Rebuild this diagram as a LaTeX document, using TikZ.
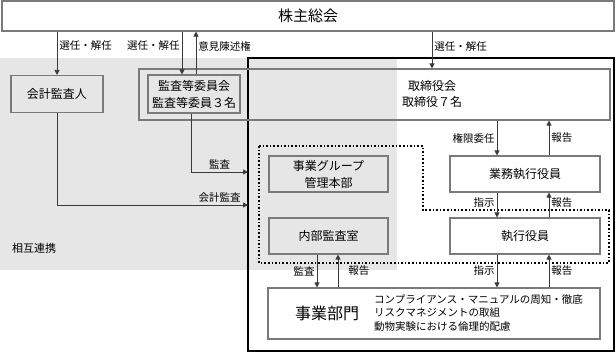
\documentclass[tikz,border=0pt]{standalone}
\usepackage{fontspec}
\setmainfont{Noto Sans CJK JP}
\usepackage{tikz}
\usetikzlibrary{arrows.meta,positioning,calc}
\definecolor{bandgray}{HTML}{E6E6E6}
\definecolor{boxline}{HTML}{7A7A7A}
\definecolor{linedark}{HTML}{3A3A3A}
\tikzset{
  orgbox/.style={draw=boxline, line width=1.1pt, align=center, inner sep=0pt, font=\fontsize{12}{17}\selectfont},
  ar/.style={-{Triangle[length=5pt,width=5pt]}, line width=.8pt, draw=linedark},
  lbl/.style={font=\fontsize{10.5}{12}\selectfont, inner sep=2pt},
  txt/.style={inner sep=0pt, align=center, font=\fontsize{12}{16}\selectfont},
}

\begin{document}
\begin{tikzpicture}[x=1pt, y=-1pt]
  \useasboundingbox (0,0) rectangle (616,353);
  % band and frames
  \fill[bandgray] (0,58) rectangle (397,270);
  \draw[black, line width=1.8pt] (248,58) rectangle (614,351);
  \draw[black, dotted, line width=1.6pt] (259,146) -| (423,210) -| (609,263) -- (259,263) -- cycle;

  \node[orgbox, minimum width=612pt, minimum height=30pt, font=\fontsize{15}{18}\selectfont] (soukai) at (308,16) {株主総会};
  \node[orgbox, minimum width=92pt, minimum height=37pt] (kaikei) at (57,94) {会計監査人};
  \node[orgbox, minimum width=92pt, minimum height=38pt] (kansa) at (194,94) {監査等委員会\\監査等委員３名};
  \node[orgbox, minimum width=471pt, minimum height=51pt] (torishimari) at (374.5,94.5) {};
  \node[txt] (torishimariText) at (432,94) {取締役会\\取締役７名};
  \node[orgbox, minimum width=150pt, minimum height=36pt] (gyomu) at (525,174) {業務執行役員};
  \node[orgbox, minimum width=150pt, minimum height=36pt] (shikko) at (525,236) {執行役員};
  \node[orgbox, minimum width=119pt, minimum height=36pt] (jigyoG) at (328.5,174) {事業グループ\\管理本部};
  \node[orgbox, minimum width=119pt, minimum height=36pt] (naibu) at (328.5,236) {内部監査室};
  \node[orgbox, minimum width=332pt, minimum height=51pt] (jigyo) at (434,313.5) {};
  \node[txt, font=\fontsize{16}{18}\selectfont] (jigyoTitle) at (327,313) {事業部門};
  \node[txt, anchor=west, align=left, font=\fontsize{10.5}{13.5}\selectfont] (jigyoList) at (374,313)
    {コンプライアンス・マニュアルの周知・徹底\\リスクマネジメントの取組\\動物実験における倫理的配慮};
  \node[lbl, anchor=west, font=\fontsize{11}{13}\selectfont] (renkei) at (10,248) {相互連携};

  \coordinate (kansaIn) at (182,0);
  \coordinate (kansaOut) at (196,0);
  \coordinate (kansaDown) at (191,0);
  \coordinate (auditEnd) at (248,172);
  \coordinate (acctEnd) at (248,205);
  \coordinate (cmdX) at (497,0);
  \coordinate (rptX) at (549,0);
  \coordinate (naibuDown) at (317,0);
  \coordinate (naibuUp) at (338,0);

  % shareholders
  \draw[ar] (soukai.south -| kaikei.north) -- (kaikei.north) node[lbl, pos=.33, right] {選任・解任};
  \draw[ar] (soukai.south -| kansaIn) -- (kansa.north -| kansaIn) node[lbl, pos=.33, left] {選任・解任};
  \draw[ar] (kansa.north -| kansaOut) -- (soukai.south -| kansaOut) node[lbl, pos=.66, right] {意見陳述権};
  \draw[ar] (soukai.south -| torishimariText) -- (torishimari.north -| torishimariText) node[lbl, pos=.4, right] {選任・解任};

  % audits
  \draw[ar] (kansa.south -| kansaDown) |- (auditEnd) node[lbl, pos=.75, above] {監査};
  \draw[ar] (kaikei.south) |- (acctEnd) node[lbl, pos=1, above left, xshift=-5pt] {会計監査};

  % execution
  \draw[ar] (torishimari.south -| cmdX) -- (gyomu.north -| cmdX) node[lbl, midway, left] {権限委任};
  \draw[ar] (gyomu.north -| rptX) -- (torishimari.south -| rptX) node[lbl, midway, right] {報告};
  \draw[ar] (gyomu.south -| cmdX) -- (shikko.north -| cmdX) node[lbl, pos=.4, left] {指示};
  \draw[ar] (shikko.north -| rptX) -- (gyomu.south -| rptX) node[lbl, pos=.6, right] {報告};
  \draw[ar] (shikko.south -| cmdX) -- (jigyo.north -| cmdX) node[lbl, midway, left] {指示};
  \draw[ar] (jigyo.north -| rptX) -- (shikko.south -| rptX) node[lbl, midway, right] {報告};
  \draw[ar] (naibu.south -| naibuDown) -- (jigyo.north -| naibuDown) node[lbl, midway, left] {監査};
  \draw[ar] (jigyo.north -| naibuUp) -- (naibu.south -| naibuUp) node[lbl, midway, right, xshift=8pt] {報告};
\end{tikzpicture}
\end{document}
